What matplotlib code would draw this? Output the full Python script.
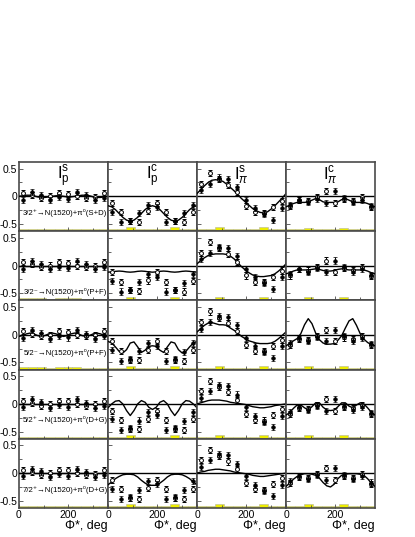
import numpy as np
import matplotlib
matplotlib.use("Agg")
import matplotlib.pyplot as plt

plt.rcParams['font.family'] = ['Liberation Sans', 'DejaVu Sans']
plt.rcParams['mathtext.fontset'] = 'custom'
plt.rcParams['mathtext.rm'] = 'Liberation Sans'
plt.rcParams['mathtext.it'] = 'Liberation Sans:italic'

# ---------------- data ----------------
phi_bins = [18, 54, 90, 126, 162, 198, 234, 270, 306, 342]
curve_phi = [0, 15, 30, 45, 60, 75, 90, 105, 120, 135, 150, 165, 180,
             195, 210, 225, 240, 255, 270, 285, 300, 315, 330, 345, 360]

col_titles = [r'$\mathrm{I}_{\mathrm{p}}^{\mathrm{s}}$', r'$\mathrm{I}_{\mathrm{p}}^{\mathrm{c}}$',
              r'$\mathrm{I}_{\pi}^{\mathrm{s}}$', r'$\mathrm{I}_{\pi}^{\mathrm{c}}$']
row_labels = ['3/2⁺→N(1520)+π⁰(S+D)', '3/2⁻→N(1520)+π⁰(P+F)', '5/2⁻→N(1520)+π⁰(P+F)',
              '5/2⁺→N(1520)+π⁰(D+G)', '7/2⁺→N(1520)+π⁰(D+G)']
row_label_y = [-0.31, -0.47, -0.33, -0.29, -0.31]

# measured points (open / filled), same in every row
open_ps = [0.06, 0.02, -0.03, 0.00, 0.06, 0.05, 0.00, -0.03, -0.01, 0.06]
fill_ps = [-0.06, 0.08, 0.03, -0.07, -0.02, -0.05, 0.08, 0.02, -0.07, -0.03]
open_pc = [-0.12, -0.29, -0.45, -0.46, -0.27, -0.12, -0.29, -0.45, -0.47, -0.28]
fill_pc = [-0.28, -0.47, -0.44, -0.30, -0.15, -0.20, -0.47, -0.44, -0.31, -0.15]
open_pis = [0.23, 0.42, 0.31, 0.21, 0.07, -0.18, -0.29, -0.30, -0.20, -0.09]
fill_pis = [0.11, 0.23, 0.34, 0.32, 0.17, -0.06, -0.21, -0.32, -0.42, -0.21]
open_pic = [-0.18, -0.07, -0.09, -0.02, 0.09, -0.12, -0.05, -0.08, -0.02, -0.19]
fill_pic = [-0.15, -0.06, -0.11, -0.04, -0.12, 0.09, -0.03, -0.11, -0.06, -0.17]
err_open = [0.055, 0.055, 0.055, 0.055, 0.055, 0.055, 0.055, 0.055, 0.055, 0.055]
err_fill = [0.055, 0.055, 0.055, 0.055, 0.055, 0.055, 0.055, 0.055, 0.055, 0.055]

open_data = [open_ps, open_pc, open_pis, open_pic]
fill_data = [fill_ps, fill_pc, fill_pis, fill_pic]

# systematic-error bands at the bottom
sys_ps = [0.040, 0.040, 0.040, 0.034, 0.040, 0.040, 0.040, 0.034, 0.034, 0.034]
sys_pc = [0.034, 0.034, 0.070, 0.034, 0.034, 0.034, 0.034, 0.070, 0.034, 0.034]
sys_pis = [0.034, 0.034, 0.070, 0.034, 0.034, 0.034, 0.034, 0.070, 0.034, 0.034]
sys_pic = [0.034, 0.034, 0.065, 0.034, 0.034, 0.034, 0.065, 0.034, 0.034, 0.034]
sys_data = [sys_ps, sys_pc, sys_pis, sys_pic]

# model curves [row][col]
c_r1_ps = [0.00, 0.01, 0.02, 0.02, 0.01, -0.01, -0.02, -0.02, -0.01, 0.00, 0.01, 0.01, 0.00,
           -0.01, -0.01, 0.00, 0.01, 0.02, 0.02, 0.01, -0.01, -0.02, -0.02, -0.01, 0.00]
c_r1_pc = [-0.17, -0.19, -0.24, -0.31, -0.38, -0.43, -0.45, -0.43, -0.38, -0.31, -0.24, -0.19, -0.17,
           -0.19, -0.24, -0.31, -0.38, -0.43, -0.45, -0.43, -0.38, -0.31, -0.24, -0.19, -0.17]
c_r1_pis = [0.05, 0.12, 0.19, 0.25, 0.29, 0.30, 0.29, 0.27, 0.22, 0.16, 0.10, 0.03, -0.04,
            -0.10, -0.16, -0.22, -0.26, -0.29, -0.30, -0.28, -0.23, -0.17, -0.10, -0.03, 0.05]
c_r1_pic = [-0.19, -0.16, -0.13, -0.11, -0.11, -0.11, -0.10, -0.07, -0.04, -0.06, -0.10, -0.11, -0.11,
            -0.11, -0.10, -0.06, -0.04, -0.07, -0.10, -0.11, -0.11, -0.11, -0.13, -0.16, -0.19]

c_r2_ps = [0.0] * 25
c_r2_pc = [-0.12, -0.115, -0.105, -0.10, -0.105, -0.115, -0.12, -0.115, -0.105, -0.10, -0.105, -0.115, -0.12,
           -0.115, -0.105, -0.10, -0.105, -0.115, -0.12, -0.115, -0.105, -0.10, -0.105, -0.115, -0.12]
c_r2_pis = [0.03, 0.09, 0.14, 0.18, 0.20, 0.21, 0.21, 0.21, 0.20, 0.17, 0.12, 0.05, -0.02,
            -0.08, -0.13, -0.17, -0.19, -0.20, -0.20, -0.19, -0.18, -0.15, -0.10, -0.04, 0.03]
c_r2_pic = [-0.15, -0.13, -0.10, -0.08, -0.08, -0.08, -0.08, -0.07, -0.06, -0.07, -0.09, -0.10, -0.10,
            -0.09, -0.07, -0.06, -0.07, -0.08, -0.08, -0.08, -0.08, -0.08, -0.10, -0.13, -0.15]

c_r3_ps = [-0.03, -0.015, 0.015, 0.03, 0.015, -0.015, -0.03, -0.015, 0.015, 0.03, 0.015, -0.015, -0.03,
           -0.015, 0.015, 0.03, 0.015, -0.015, -0.03, -0.015, 0.015, 0.03, 0.015, -0.015, -0.03]
c_r3_pc = [-0.12, -0.15, -0.22, -0.30, -0.33, -0.27, -0.15, -0.13, -0.22, -0.32, -0.28, -0.21, -0.20,
           -0.21, -0.28, -0.32, -0.22, -0.13, -0.15, -0.27, -0.33, -0.30, -0.22, -0.15, -0.12]
c_r3_pis = [0.05, 0.11, 0.17, 0.21, 0.22, 0.20, 0.18, 0.18, 0.17, 0.12, 0.08, 0.03, -0.03,
            -0.07, -0.11, -0.13, -0.15, -0.16, -0.16, -0.16, -0.15, -0.12, -0.07, -0.01, 0.05]
c_r3_pic = [-0.20, -0.16, -0.11, -0.07, 0.02, 0.18, 0.29, 0.20, 0.03, -0.09, -0.15, -0.17, -0.17,
            -0.16, -0.10, -0.02, 0.12, 0.25, 0.29, 0.17, 0.02, -0.08, -0.14, -0.18, -0.20]

c_r4_ps = [0.0] * 25
c_r4_pc = [-0.07, 0.00, 0.05, 0.06, 0.00, -0.12, -0.21, -0.12, 0.00, 0.06, 0.03, -0.06, -0.10,
           -0.06, 0.03, 0.06, 0.00, -0.12, -0.21, -0.12, 0.00, 0.06, 0.05, 0.00, -0.07]
c_r4_pis = [0.00, 0.02, 0.04, 0.06, 0.07, 0.07, 0.07, 0.06, 0.05, 0.03, 0.02, 0.01, 0.00,
            -0.01, -0.03, -0.05, -0.06, -0.07, -0.07, -0.06, -0.05, -0.03, -0.02, -0.01, 0.00]
c_r4_pic = [-0.20, -0.16, -0.08, -0.02, -0.02, -0.07, -0.11, -0.05, 0.02, 0.02, -0.06, -0.11, -0.12,
            -0.11, -0.05, 0.02, 0.02, -0.04, -0.07, -0.02, 0.02, 0.00, -0.07, -0.15, -0.20]

c_r5_ps = [0.0] * 25
c_r5_pc = [-0.21, -0.16, -0.10, -0.06, -0.03, -0.02, -0.02, -0.03, -0.07, -0.13, -0.18, -0.22, -0.22,
           -0.22, -0.18, -0.13, -0.07, -0.03, -0.02, -0.02, -0.03, -0.06, -0.10, -0.16, -0.21]
c_r5_pis = [0.00, 0.02, 0.03, 0.05, 0.06, 0.07, 0.07, 0.06, 0.05, 0.04, 0.02, 0.01, 0.00,
            -0.01, -0.02, -0.04, -0.05, -0.06, -0.06, -0.05, -0.04, -0.03, -0.02, -0.01, 0.00]
c_r5_pic = [-0.24, -0.18, -0.11, -0.06, -0.03, -0.01, -0.01, -0.02, -0.04, -0.09, -0.17, -0.23, -0.25,
            -0.20, -0.10, -0.04, -0.02, -0.01, -0.01, -0.01, -0.02, -0.04, -0.10, -0.18, -0.24]

curves = [[c_r1_ps, c_r1_pc, c_r1_pis, c_r1_pic],
          [c_r2_ps, c_r2_pc, c_r2_pis, c_r2_pic],
          [c_r3_ps, c_r3_pc, c_r3_pis, c_r3_pic],
          [c_r4_ps, c_r4_pc, c_r4_pis, c_r4_pic],
          [c_r5_ps, c_r5_pc, c_r5_pis, c_r5_pic]]

# ---------------- figure ----------------
W, H = 415, 537
fig = plt.figure(figsize=(W / 100, H / 100), dpi=100)
gs = fig.add_gridspec(5, 4, left=19 / W, right=375 / W, top=1 - 162 / H, bottom=1 - 508 / H,
                      wspace=0, hspace=0)

YLO, YHI = -0.63, 0.62
spine_col = '#4a4a4a'

for r in range(5):
    for c in range(4):
        ax = fig.add_subplot(gs[r, c])
        ax.set_xlim(0, 360)
        ax.set_ylim(YLO, YHI)
        for s in ax.spines.values():
            s.set_color(spine_col)
            s.set_linewidth(1.2)
        # systematic bars
        ax.bar(phi_bins, sys_data[c], width=36, bottom=YLO, color='#ecec00',
               edgecolor='#b5b5a0', linewidth=0.4, zorder=1)
        ax.axhline(0, color='black', lw=1.0, zorder=2)
        ax.plot(curve_phi, curves[r][c], color='black', lw=1.0, zorder=3)
        ax.errorbar(phi_bins, open_data[c], yerr=err_open, fmt='o', ms=2.8, mfc='white',
                    mec='black', mew=0.7, ecolor='black', elinewidth=0.7, capsize=1.3,
                    capthick=0.7, zorder=4)
        ax.errorbar(phi_bins, fill_data[c], yerr=err_fill, fmt='o', ms=2.6, mfc='black',
                    mec='black', mew=0.5, ecolor='black', elinewidth=0.7, capsize=1.3,
                    capthick=0.7, zorder=5)
        ax.set_xticks([0, 200])
        ax.set_xticks([100, 300], minor=True)
        ax.set_yticks([-0.5, 0, 0.5])
        ax.set_yticks([-0.25, 0.25], minor=True)
        ax.tick_params(which='both', direction='in', colors=spine_col, labelcolor='black',
                       labelsize=7.5, pad=1.5)
        ax.tick_params(which='major', length=3, width=0.6)
        ax.tick_params(which='minor', length=2, width=0.6)
        if c == 0:
            ax.set_yticklabels(['-0.5', '0', '0.5'])
            ax.text(0.52, row_label_y[r], row_labels[r], transform=ax.get_yaxis_transform(),
                    ha='center', va='center', fontsize=5.6, zorder=6)
        else:
            ax.set_yticklabels([])
        if r == 4:
            ax.set_xticklabels(['0', '200'])
            ax.set_xlabel('Φ*, deg', loc='right', fontsize=9, labelpad=0)
        else:
            ax.set_xticklabels([])
        if r == 0:
            ax.text(0.5, 0.97, col_titles[c], transform=ax.transAxes, ha='center', va='top',
                    fontsize=12)

fig.savefig('out.png', dpi=100)
